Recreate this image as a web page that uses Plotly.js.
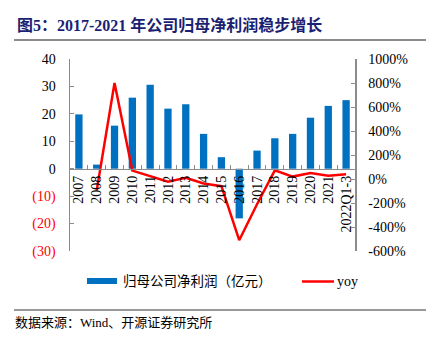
<!DOCTYPE html>
<html>
<head>
<meta charset="utf-8">
<script src="https://cdn.plot.ly/plotly-3.0.1.min.js"></script>
<style>html,body{margin:0;padding:0;background:#fff;}#chart{width:442px;height:345px;}</style>
</head>
<body>
<div id="chart"></div>
<script>
const categories = ['2007','2008','2009','2010','2011','2012','2013','2014','2015','2016','2017','2018','2019','2020','2021','2022Q1-3'];
const netProfit = [19.8, 1.5, 15.7, 25.9, 30.6, 21.9, 23.5, 12.7, 4.2, -18.1, 6.6, 11.1, 12.7, 18.6, 22.9, 25.0];
const yoy = [null, -95, 800, 70, 25, -22, 10, -38, -60, -510, -210, 72, 20, 50, 28, 40];
const leftTicks = [40, 30, 20, 10, 0, -10, -20, -30];
const leftTickText = ['40','30','20','10','0','(10)','(20)','(30)'];
const rightTicks = [1000, 800, 600, 400, 200, 0, -200, -400, -600];
const rightTickText = ['1000%','800%','600%','400%','200%','0%','-200%','-400%','-600%'];

const serif = 'Liberation Serif, Times New Roman, Noto Sans CJK SC, serif';
const cjk = 'Liberation Serif, Noto Sans CJK SC, serif';
const axisGray = '#8c8c8c';

const W = 442, H = 345, L = 70, R = 87, T = 59, B = 94;
const pw = W - L - R, ph = H - T - B;
const px = x => (x - L) / pw;
const py = y => (H - B - y) / ph;

const traces = [
  {type:'bar', x: categories, y: netProfit, name:'归母公司净利润（亿元）', marker:{color:'#0070C0'}, yaxis:'y', hoverinfo:'skip'},
  {type:'scatter', mode:'lines', x: categories, y: yoy, name:'yoy', line:{color:'#FF0000', width:2.5}, yaxis:'y2', hoverinfo:'skip'}
];

const layout = {
  width: W, height: H,
  margin:{l:L, r:R, t:T, b:B, pad:0},
  paper_bgcolor:'#fff', plot_bgcolor:'rgba(0,0,0,0)',
  showlegend:false,
  bargap:0.59,
  title:{text:'<b>图5：2017-2021 年公司归母净利润稳步增长</b>', font:{family:cjk, size:16, color:'#1b1f73'},
         x:17/W, xref:'container', xanchor:'left', y:1-25/H, yref:'container', yanchor:'middle'},
  xaxis:{type:'category', anchor:'free', position:30/70, showline:true, linecolor:axisGray, linewidth:1.5,
         ticks:'inside', ticklen:4, tickcolor:axisGray, tickwidth:1, tickson:'boundaries',
         tickangle:-90, tickfont:{family:serif, size:14, color:'#000'}, showgrid:false, zeroline:false, fixedrange:true},
  yaxis:{range:[-30,40], tickvals:leftTicks,
         ticktext:leftTickText.map((t,i)=> leftTicks[i] < 0 ? '<span style="color:#FF0000">'+t+'</span>' : t),
         showline:true, linecolor:axisGray, linewidth:1.5, ticks:'inside', ticklen:4, tickcolor:axisGray,
         showgrid:false, zeroline:false, tickfont:{family:serif, size:14, color:'#000'}, ticklabelstandoff:10},
  yaxis2:{range:[-600,1000], overlaying:'y', side:'right', anchor:'x', tickvals:rightTicks, ticktext:rightTickText,
          showline:true, linecolor:axisGray, linewidth:1.5, ticks:'inside', ticklen:4, tickcolor:axisGray,
          showgrid:false, zeroline:false, tickfont:{family:serif, size:14, color:'#000'}, ticklabelstandoff:9},
  shapes:[
    {type:'line', xref:'paper', yref:'paper', x0:px(14), x1:px(426), y0:py(40), y1:py(40), line:{color:'#8a8a8a', width:2}},
    {type:'line', xref:'paper', yref:'paper', x0:px(14), x1:px(426), y0:py(310), y1:py(310), line:{color:'#333', width:1}},
    {type:'rect', xref:'paper', yref:'paper', x0:px(87), x1:px(117), y0:py(284), y1:py(278), fillcolor:'#0070C0', line:{width:0}},
    {type:'line', xref:'paper', yref:'paper', x0:px(302), x1:px(334), y0:py(281.5), y1:py(281.5), line:{color:'#FF0000', width:2.5}}
  ],
  annotations:[
    {xref:'paper', yref:'paper', x:px(121), y:py(281), xanchor:'left', yanchor:'middle', showarrow:false,
     text:'归母公司净利润（亿元）', font:{family:cjk, size:13.5, color:'#000'}},
    {xref:'paper', yref:'paper', x:px(335), y:py(281), xanchor:'left', yanchor:'middle', showarrow:false,
     text:'yoy', font:{family:serif, size:14, color:'#000'}},
    {xref:'paper', yref:'paper', x:px(13), y:py(322), xanchor:'left', yanchor:'middle', showarrow:false,
     text:'数据来源：Wind、开源证券研究所', font:{family:cjk, size:13, color:'#000'}}
  ]
};

Plotly.newPlot('chart', traces, layout, {displayModeBar:false, staticPlot:true});
</script>
</body>
</html>
